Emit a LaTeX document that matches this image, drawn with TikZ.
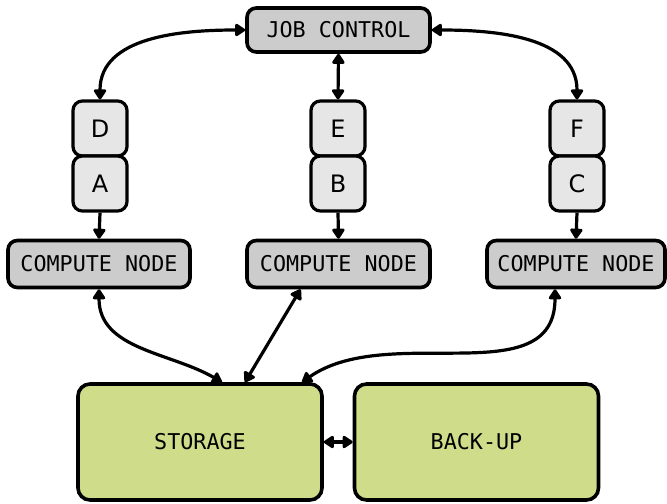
\documentclass[tikz,border=0pt]{standalone}
\usepackage{fontspec}
\setmainfont{DejaVu Sans}
\newfontfamily\monof{DejaVu Sans Mono}
\usetikzlibrary{arrows.meta}
\definecolor{boxgray}{HTML}{CCCCCC}
\definecolor{lightgray2}{HTML}{E6E6E6}
\definecolor{storegreen}{HTML}{CFDD8A}
\begin{document}
\begin{tikzpicture}[x=0.75pt,y=-0.75pt,
  graybox/.style={draw=black, line width=2.7pt, rounded corners=7pt, fill=boxgray, inner sep=0pt, font=\monof\fontsize{16.3}{19}\selectfont},
  letterbox/.style={draw=black, line width=2.4pt, rounded corners=7pt, fill=lightgray2, minimum width=54*0.75pt, minimum height=55*0.75pt, inner sep=0pt, font=\fontsize{18}{21}\selectfont},
  greenbox/.style={draw=black, line width=2.7pt, rounded corners=9pt, fill=storegreen, minimum width=244*0.75pt, minimum height=116*0.75pt, inner sep=0pt, font=\monof\fontsize{16.3}{19}\selectfont},
  tip/.tip={Triangle[round,length=8.5pt,width=10.5pt]},
  conn/.style={line width=2.4pt, tip-tip},
  oneway/.style={line width=2.4pt, -tip}]
\useasboundingbox (0,0) rectangle (667,503);
\node[graybox, minimum width=183*0.75pt, minimum height=44*0.75pt] (jc) at (338.5,30) {JOB CONTROL};
\node[letterbox] (d) at (100,128.5) {D};
\node[letterbox] (a) at (100,183.5) {A};
\node[letterbox] (e) at (338,128.5) {E};
\node[letterbox] (b) at (338,183.5) {B};
\node[letterbox] (f) at (577,128.5) {F};
\node[letterbox] (c) at (577,183.5) {C};
\node[graybox, minimum width=182*0.75pt, minimum height=47*0.75pt] (cn1) at (99,264) {COMPUTE NODE};
\node[graybox, minimum width=183*0.75pt, minimum height=47*0.75pt] (cn2) at (338.5,264) {COMPUTE NODE};
\node[graybox, minimum width=178*0.75pt, minimum height=47*0.75pt] (cn3) at (576,264) {COMPUTE NODE};
\node[greenbox] (st) at (200,442) {STORAGE};
\node[greenbox] (bk) at (476.5,442) {BACK-UP};
\draw[conn] (jc.west) to[out=180,in=90] (d.north);
\draw[conn] (jc.south) -- (e.north);
\draw[conn] (jc.east) to[out=0,in=90] (f.north);
\draw[oneway] (a.south) -- (cn1.north);
\draw[oneway] (b.south) -- (cn2.north);
\draw[oneway] (c.south) -- (cn3.north);
\draw[conn] (cn1.south) to[out=-90,in=150] ([xshift=22*0.75pt]st.north);
\draw[conn] ([xshift=-38*0.75pt]cn2.south) -- ([xshift=45*0.75pt]st.north);
\draw[conn] ([xshift=-21*0.75pt]cn3.south) to[out=-90,in=35] ([xshift=102*0.75pt]st.north);
\draw[conn] (st.east) -- (bk.west);
\end{tikzpicture}
\end{document}
